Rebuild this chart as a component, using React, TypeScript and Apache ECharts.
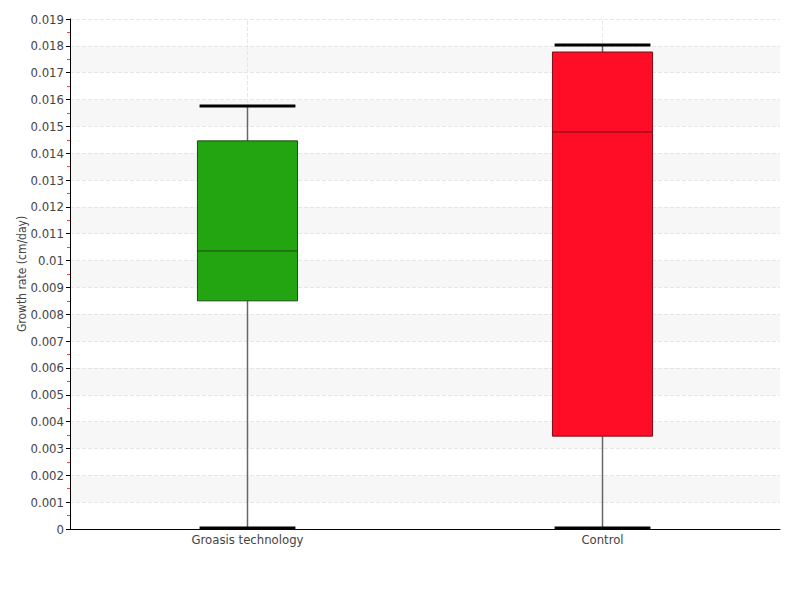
import React, { useEffect, useRef } from "react";
import * as echarts from "echarts";

const categories = ["Groasis technology", "Control"];
const minValues = [0, 0];
const q1Values = [0.0085, 0.00346];
const medianValues = [0.01036, 0.01479];
const q3Values = [0.01446, 0.01777];
const maxValues = [0.01576, 0.01803];
const boxColors = ["#22a511", "#ff0d27"];
const borderColors = ["#1f4a14", "#7a0b14"];

const FONT = "'DejaVu Sans Condensed', 'Liberation Sans Narrow', 'DejaVu Sans', sans-serif";

export default function App() {
  const ref = useRef<HTMLDivElement>(null);
  useEffect(() => {
    if (!ref.current) return;
    const chart = echarts.init(ref.current, null, { renderer: "svg" });
    const data = categories.map((_, i) => [i, minValues[i], q1Values[i], medianValues[i], q3Values[i], maxValues[i]]);
    chart.setOption({
      animation: false,
      grid: { left: 70, right: 20, top: 19, bottom: 71 },
      xAxis: {
        type: "category",
        data: categories,
        axisLine: { lineStyle: { color: "#000", width: 1 } },
        axisTick: { show: false },
        axisLabel: { color: "#444", fontFamily: FONT, fontSize: 13, margin: 4 },
        splitLine: { show: false },
      },
      yAxis: {
        type: "value",
        min: 0,
        max: 0.019,
        interval: 0.001,
        name: "Growth rate (cm/day)",
        nameLocation: "middle",
        nameGap: 42,
        nameMoveOverlap: false,
        nameTextStyle: { color: "#444", fontFamily: FONT, fontSize: 12 },
        axisLine: { show: true, lineStyle: { color: "#000", width: 1 } },
        axisTick: { show: true, length: 4, lineStyle: { color: "#000" } },
        minorTick: { show: true, splitNumber: 2, length: 3, lineStyle: { color: "#ff3b3b" } },
        axisLabel: {
          color: "#444",
          fontFamily: FONT,
          fontSize: 13,
          margin: 6,
          formatter: (v: number) => String(parseFloat(v.toFixed(4))),
        },
        splitLine: { show: true, lineStyle: { color: "#e6e6e6", type: "dashed" } },
        splitArea: { show: true, areaStyle: { color: ["rgba(255,255,255,0)", "#f7f7f7"] } },
      },
      series: [
        {
          type: "line",
          data: [],
          z: 1,
          markLine: {
            silent: true,
            symbol: "none",
            label: { show: false },
            lineStyle: { color: "#e6e6e6", type: "dashed", width: 1 },
            data: categories.map((c) => ({ xAxis: c })),
          },
        },
        {
          type: "custom",
          z: 10,
          data,
          renderItem: (params: any, api: any) => {
            const i = api.value(0);
            const band = api.size([1, 0])[0];
            const boxW = band * 0.282;
            const capW = band * 0.27;
            const pMin = api.coord([i, api.value(1)]);
            const pQ1 = api.coord([i, api.value(2)]);
            const pMed = api.coord([i, api.value(3)]);
            const pQ3 = api.coord([i, api.value(4)]);
            const pMax = api.coord([i, api.value(5)]);
            const cx = pMin[0];
            return {
              type: "group",
              children: [
                {
                  type: "line",
                  shape: { x1: cx, y1: pQ3[1], x2: cx, y2: pMax[1] },
                  style: { stroke: "#666", lineWidth: 1.5 },
                },
                {
                  type: "line",
                  shape: { x1: cx, y1: pQ1[1], x2: cx, y2: pMin[1] },
                  style: { stroke: "#666", lineWidth: 1.5 },
                },
                {
                  type: "rect",
                  shape: { x: cx - boxW / 2, y: pQ3[1], width: boxW, height: pQ1[1] - pQ3[1] },
                  style: { fill: boxColors[i], stroke: borderColors[i], lineWidth: 1 },
                },
                {
                  type: "line",
                  shape: { x1: cx - boxW / 2, y1: pMed[1], x2: cx + boxW / 2, y2: pMed[1] },
                  style: { stroke: borderColors[i], lineWidth: 1 },
                },
                {
                  type: "line",
                  shape: { x1: cx - capW / 2, y1: pMax[1], x2: cx + capW / 2, y2: pMax[1] },
                  style: { stroke: "#000", lineWidth: 3 },
                },
                {
                  type: "line",
                  shape: { x1: cx - capW / 2, y1: pMin[1] - 1, x2: cx + capW / 2, y2: pMin[1] - 1 },
                  style: { stroke: "#000", lineWidth: 3 },
                },
              ],
            };
          },
        },
      ],
    });
    return () => chart.dispose();
  }, []);
  return <div ref={ref} style={{ width: 800, height: 600, margin: -8 }} />;
}
